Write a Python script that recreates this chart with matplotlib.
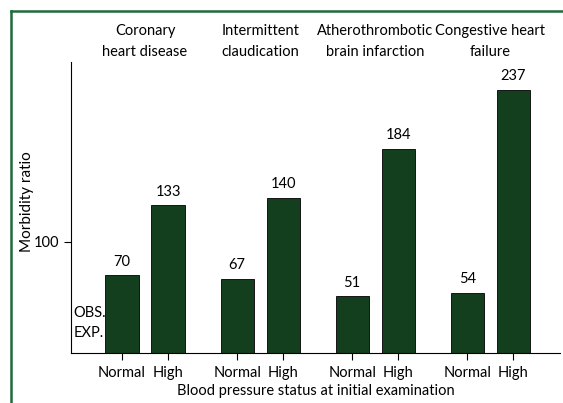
import numpy as np
import matplotlib.pyplot as plt
from matplotlib.lines import Line2D

plt.rcParams['font.family'] = ['Lato', 'DejaVu Sans']

# dados
groups = ['Coronary\nheart disease', 'Intermittent\nclaudication',
          'Atherothrombotic\nbrain infarction', 'Congestive heart\nfailure']
normal = [70, 67, 51, 54]
high = [133, 140, 184, 237]
status = ['Normal', 'High']

bar_color = '#143f1e'
frame_color = '#1f6b3c'

fig = plt.figure(figsize=(5.63, 4.03), dpi=100)
ax = fig.add_axes([0.126, 0.124, 0.869, 0.722])

gx = np.arange(len(groups)) * 2.5
xn = gx
xh = gx + 1

ax.bar(xn, normal, width=0.72, color=bar_color, edgecolor='black', linewidth=0.6)
ax.bar(xh, high, width=0.72, color=bar_color, edgecolor='black', linewidth=0.6)

for x, v in zip(np.concatenate([xn, xh]), normal + high):
    ax.text(x, v + 6, str(v), ha='center', va='bottom', fontsize=10.5)

for x, g in zip(gx + 0.5, groups):
    ax.text(x, 265, g, ha='center', va='bottom', fontsize=10.5, linespacing=1.6)

ax.text(-1.06, 27, 'OBS.\nEXP.', ha='left', va='center', fontsize=10.5, linespacing=1.55)

ax.set_xlim(-1.11, 9.52)
ax.set_ylim(0, 262)
ax.set_yticks([100])
ax.set_xticks(np.sort(np.concatenate([xn, xh])))
ax.set_xticklabels(status * len(groups), fontsize=10.5)
ax.tick_params(axis='y', labelsize=10.5, length=5, width=0.8)
ax.tick_params(axis='x', length=5, width=0.8, pad=4)
ax.spines['top'].set_visible(False)
ax.spines['right'].set_visible(False)
ax.spines['left'].set_linewidth(0.8)
ax.spines['bottom'].set_linewidth(0.8)
ax.set_ylabel('Morbidity ratio', fontsize=11)
ax.yaxis.set_label_coords(-0.076, 0.52)
ax.set_xlabel('Blood pressure status at initial examination', fontsize=10.5, labelpad=3)

# moldura verde
fig.add_artist(Line2D([0.0187, 0.0187], [0, 0.973], color=frame_color, linewidth=1.8))
fig.add_artist(Line2D([0.0187, 1.0], [0.973, 0.973], color=frame_color, linewidth=1.8))

fig.savefig('out.png', dpi=100)
